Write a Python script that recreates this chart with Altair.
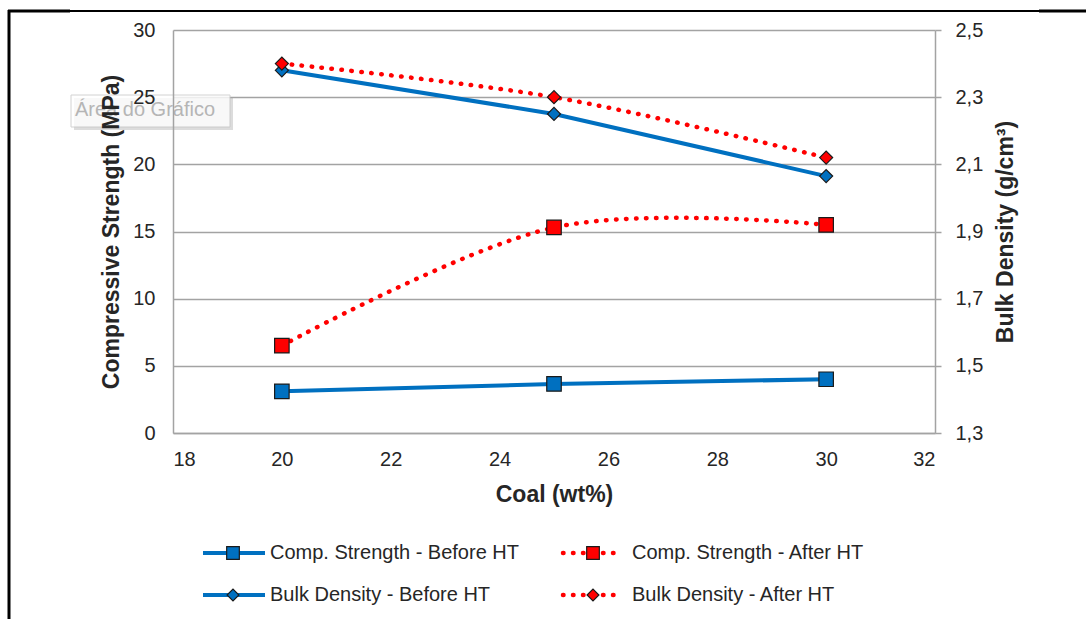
import altair as alt
import pandas as pd

# ---------------- data ----------------
coal = [20, 25, 30]
comp_before = [3.1, 3.65, 4.0]
comp_after = [6.5, 15.3, 15.5]
bulk_before = [2.38, 2.25, 2.065]
bulk_after = [2.40, 2.30, 2.12]

series_names = [
    "Comp. Strength - Before HT",
    "Comp. Strength - After HT",
    "Bulk Density - Before HT",
    "Bulk Density - After HT",
]

x_ticks = [18, 20, 22, 24, 26, 28, 30, 32]
left_ticks = [0, 5, 10, 15, 20, 25, 30]
right_ticks = [1.3, 1.5, 1.7, 1.9, 2.1, 2.3, 2.5]

# ---------------- styles ----------------
BLUE = "#0070C0"
RED = "#FF0000"
GRID = "#a3a3a3"
LABEL = "#262626"
FONT = "Liberation Sans"
W, H = 762, 403
DOTS = [0.5, 9.5]


def frame(vals):
    return pd.DataFrame({"coal": coal, "v": vals})


x_enc = alt.X(
    "coal:Q",
    scale=alt.Scale(domain=[18, 32], nice=False, zero=False),
    axis=alt.Axis(
        values=x_ticks, title="Coal (wt%)", grid=False, ticks=False,
        domainColor=GRID, domainWidth=1.5, labelFontSize=20, labelColor=LABEL,
        labelPadding=16, format="d", titleFontSize=23, titleFontWeight="bold",
        titleColor=LABEL, titleY=61, titleBaseline="middle", titleAlign="center",
        titleX=W / 2,
    ),
)

left_scale = alt.Scale(domain=[0, 30], nice=False, zero=False)
right_scale = alt.Scale(domain=[1.3, 2.5], nice=False, zero=False)

left_axis = alt.Axis(
    orient="left", values=left_ticks, grid=False, ticks=False, domain=True,
    domainColor=GRID, domainWidth=1.5, labelFontSize=20, labelColor=LABEL,
    labelPadding=18, format="d", title="Compressive Strength (MPa)",
    titleFontSize=23, titleFontWeight="bold", titleColor=LABEL, titleAngle=270,
    titleX=-62, titleY=H / 2, titleAlign="center", titleBaseline="middle", zindex=1,
)
right_axis = alt.Axis(
    orient="right", values=right_ticks, grid=True, gridColor=GRID, gridWidth=1.5,
    ticks=True, tickSize=6, tickColor=GRID, tickWidth=1.5, domain=True,
    domainColor=GRID, domainWidth=1.5, labelFontSize=20, labelColor=LABEL,
    labelPadding=14,
    labelExpr="replace(format(datum.value, '.1f'), '.', ',')",
    title="Bulk Density (g/cm³)", titleFontSize=23, titleFontWeight="bold",
    titleColor=LABEL, titleAngle=270, titleX=70, titleY=H / 2,
    titleAlign="center", titleBaseline="middle",
)


def line(vals, scale, axis, color, dashed):
    kw = dict(color=color, strokeWidth=4)
    if dashed:
        kw.update(strokeDash=DOTS, strokeCap="round", interpolate="cardinal", strokeWidth=4.5)
    return alt.Chart(frame(vals)).mark_line(**kw).encode(
        x=x_enc, y=alt.Y("v:Q", scale=scale, axis=axis)
    )


def pts(vals, scale, color, shape, size):
    return alt.Chart(frame(vals)).mark_point(
        shape=shape, filled=True, fill=color, stroke="#1a1a1a", strokeWidth=1.2,
        size=size, opacity=1,
    ).encode(x=x_enc, y=alt.Y("v:Q", scale=scale, axis=None))


data_layers = [
    line(comp_before, left_scale, left_axis, BLUE, False),
    pts(comp_before, left_scale, BLUE, "square", 210),
    line(comp_after, left_scale, None, RED, True),
    pts(comp_after, left_scale, RED, "square", 210),
    line(bulk_before, right_scale, right_axis, BLUE, False),
    pts(bulk_before, right_scale, BLUE, "diamond", 170),
    line(bulk_after, right_scale, None, RED, True),
    pts(bulk_after, right_scale, RED, "diamond", 170),
]

# ---------------- manual legend ----------------
leg_cols = [(30, 92, 60, 97), (390, 449, 420, 459)]
leg_rows = [523, 565]
leg_style = [
    (BLUE, False, "square", 160),
    (RED, True, "square", 160),
    (BLUE, False, "diamond", 140),
    (RED, True, "diamond", 140),
]
legend_layers = []
for i, name in enumerate(series_names):
    col = leg_cols[i % 2]
    yv = leg_rows[i // 2]
    color, dashed, shape, size = leg_style[i]
    d = pd.DataFrame({"label": [name]})
    rkw = dict(color=color, strokeWidth=4)
    if dashed:
        rkw.update(strokeDash=DOTS, strokeCap="round", strokeWidth=4.5)
    legend_layers.append(
        alt.Chart(d).mark_rule(**rkw).encode(
            x=alt.value(col[0]), x2=alt.value(col[1]), y=alt.value(yv)
        )
    )
    legend_layers.append(
        alt.Chart(d).mark_point(
            shape=shape, filled=True, fill=color, stroke="#1a1a1a",
            strokeWidth=1.2, size=size, opacity=1,
        ).encode(x=alt.value(col[2]), y=alt.value(yv))
    )
    legend_layers.append(
        alt.Chart(d).mark_text(
            align="left", baseline="middle", fontSize=20, color=LABEL, font=FONT
        ).encode(x=alt.value(col[3]), y=alt.value(yv), text="label:N")
    )

# ---------------- decorations (frame + Excel tooltip) ----------------
one = pd.DataFrame({"label": ["Área do Gráfico"]})
deco = [
    alt.Chart(one).mark_rule(color="#000000", strokeWidth=2).encode(
        x=alt.value(-165), x2=alt.value(913), y=alt.value(-19)
    ),
    alt.Chart(one).mark_rule(color="#000000", strokeWidth=3).encode(
        x=alt.value(-165), x2=alt.value(-103), y=alt.value(-19)
    ),
    alt.Chart(one).mark_rule(color="#000000", strokeWidth=3).encode(
        x=alt.value(866), x2=alt.value(913), y=alt.value(-19)
    ),
    alt.Chart(one).mark_rule(color="#000000", strokeWidth=3).encode(
        x=alt.value(-164), y=alt.value(-20), y2=alt.value(589)
    ),
    # tooltip shadow
    alt.Chart(one).mark_rect(fill="#9a9a9a", opacity=0.35).encode(
        x=alt.value(-99), x2=alt.value(60), y=alt.value(68), y2=alt.value(100)
    ),
    alt.Chart(one).mark_rect(fill="#ffffff", opacity=0.8, stroke="#c8c8c8", strokeWidth=1).encode(
        x=alt.value(-102), x2=alt.value(57), y=alt.value(65), y2=alt.value(97)
    ),
    alt.Chart(one).mark_text(
        align="left", baseline="middle", fontSize=20, color="#b5b5b5", font=FONT
    ).encode(x=alt.value(-98), y=alt.value(80), text="label:N"),
]

chart = (
    alt.layer(*data_layers, *deco, *legend_layers)
    .resolve_scale(y="independent")
    .properties(
        width=W, height=H,
        autosize=alt.AutoSizeParams(type="none"),
        padding={"left": 173, "top": 30, "right": 151, "bottom": 186},
        background="#ffffff",
    )
    .configure(font=FONT)
    .configure_view(strokeWidth=0)
)

chart.save("out.html", embed_options={"renderer": "svg", "actions": False})
